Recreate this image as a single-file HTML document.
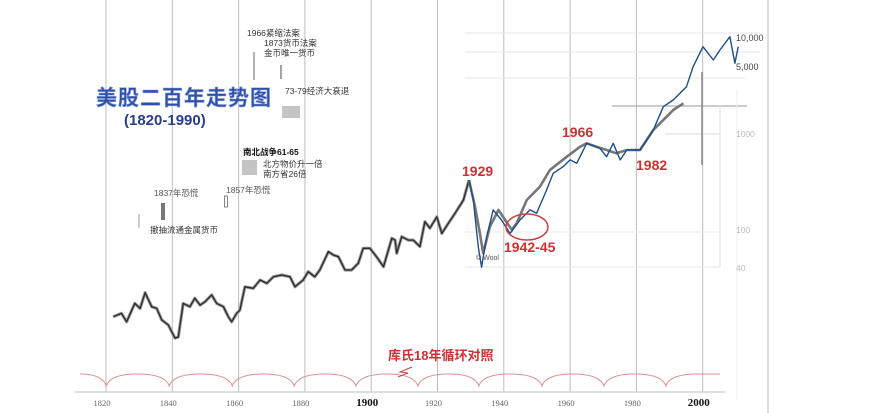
<!DOCTYPE html>
<html><head><meta charset="utf-8">
<style>
html,body{margin:0;padding:0;background:#fff;}
svg{display:block;font-family:"Liberation Sans","Noto Sans CJK SC",sans-serif;}
</style></head>
<body>
<svg id="chart" width="893" height="413" viewBox="0 0 893 413" xmlns="http://www.w3.org/2000/svg">
  <rect x="0" y="0" width="893" height="413" fill="#fff"/>
  <g id="grid"></g>
  <g id="overlay">
    <line x1="465" y1="33" x2="760" y2="33" stroke="#e4e4e4"/>
    <line x1="465" y1="52" x2="760" y2="52" stroke="#e4e4e4"/>
    <line x1="465" y1="78" x2="745" y2="78" stroke="#e4e4e4"/>
    <line x1="612" y1="106" x2="747" y2="106" stroke="#999" stroke-width="1"/>
    <line x1="665" y1="134" x2="720" y2="134" stroke="#ddd"/>
    <line x1="465" y1="232" x2="720" y2="232" stroke="#e8e8e8"/>
    <line x1="465" y1="267" x2="720" y2="267" stroke="#e4e4e4"/>
    <line x1="702" y1="72" x2="702" y2="165" stroke="#888" stroke-width="1.5"/>
    <line x1="768" y1="0" x2="768" y2="413" stroke="#bbb"/>
    <line x1="720" y1="105" x2="720" y2="267" stroke="#ddd"/>
    <line x1="737" y1="90" x2="737" y2="400" stroke="#eee"/>
  </g>
  <g id="cycles"></g>
  <line x1="75" y1="392" x2="725" y2="392" stroke="#ccc" stroke-width="1.2"/>
  <g id="xticks"></g>
  <g id="yticks"></g>
  <g id="series"></g>

  <g>
    <text x="96" y="105" font-size="21" font-weight="bold" fill="#3050a8" stroke="#8aa0d8" stroke-width="0.6" letter-spacing="1">美股二百年走势图</text>
    <text x="124" y="125" font-size="15" font-weight="bold" fill="#283f8c">(1820-1990)</text>
  </g>

  <g font-size="8.5" fill="#333">
    <text x="247" y="36">1966紧缩法案</text>
    <text x="264" y="46">1873货币法案</text>
    <text x="264" y="56">金币唯一货币</text>
    <line x1="254" y1="52" x2="254" y2="80" stroke="#666"/>
    <line x1="281" y1="65" x2="281" y2="79" stroke="#444"/>
    <text x="285" y="94">73-79经济大衰退</text>
    <rect x="282" y="106" width="18" height="12" fill="#c4c4c4"/>
    <text x="243" y="155" font-weight="bold" fill="#111">南北战争61-65</text>
    <rect x="242" y="160" width="15" height="15" fill="#c4c4c4"/>
    <text x="263" y="167">北方物价升一倍</text>
    <text x="263" y="177">南方省26倍</text>
    <text x="154" y="196" fill="#555">1837年恐慌</text>
    <rect x="161" y="203" width="4" height="17" fill="#777"/>
    <text x="226" y="193" fill="#555">1857年恐慌</text>
    <rect x="224.5" y="196" width="3" height="11" fill="none" stroke="#666" stroke-width="0.8"/>
    <line x1="139" y1="214" x2="139" y2="228" stroke="#999"/>
    <text x="150" y="233">撤抽流通金属货币</text>
    <text x="476" y="260" font-size="7" fill="#555">© Wool</text>
  </g>

  <g font-weight="bold" fill="#d03030" font-size="14">
    <text x="462" y="176">1929</text>
    <text x="562" y="137">1966</text>
    <text x="636" y="170">1982</text>
    <text x="504" y="252">1942-45</text>
    <ellipse cx="527" cy="227" rx="21" ry="13" fill="none" stroke="#d04040" stroke-width="1.5"/>
    <text x="388" y="360" font-size="13">库氏18年循环对照</text>
    <path d="M412 367 L400 372 L408 373 L398 377" fill="none" stroke="#d04040" stroke-width="1"/>
  </g>
</svg>
<script>
const xTickYears = [1820,1840,1860,1880,1900,1920,1940,1960,1980,2000];
const xTickLabels = ["1820","1840","1860","1880","1900","1920","1940","1960","1980","2000"];
const rightTickValues = [10000,5000,1000,100,40];
const rightTickLabels = ["10,000","5,000","1000","100","40"];
const cycleDipYears = [1822.5,1841.5,1860.5,1879.2,1897.8,1916.5,1934.9,1953.9,1972.6,1991.3];

const earlyYears = [1822.2,1824.7,1826.2,1828.7,1830.3,1831.8,1833.8,1835.3,1836.8,1838.8,1840.8,1841.8,1843.3,1845.3,1846.8,1848.4,1849.9,1851.9,1853.4,1855.4,1856.9,1857.9,1859.4,1860.4,1861.9,1864.4,1866.5,1868.5,1870.5,1873.0,1875.5,1877.0,1879.5,1881.0,1883.0,1884.5,1887.1,1888.6,1890.1,1892.1,1894.1,1896.1,1897.6,1899.6,1901.6,1903.7,1906.2,1907.2,1907.7,1909.2,1911.2,1912.7,1914.7,1916.2,1917.7,1919.8,1921.3,1923.3,1925.3,1927.8,1929.5];
const earlyValues = [12.2,13.2,10.8,16.8,14.9,21.7,15.5,14.9,11.3,10,7.3,7.5,16.8,15.5,19,16.1,17.5,20.6,16.8,15.5,12.2,10.8,13.2,14.3,25,24.1,29.4,27.2,31.8,33.2,31.8,25,29.4,35.9,31.8,37.4,58,53.6,51.4,37.4,37.4,44,63,63,51.4,40.5,80,76.7,55.8,83.2,76.7,76.7,65.5,119,102,134,90,115,146,200,324];

const grayYears = [1929.5,1931.3,1932.8,1933.8,1935.8,1938.4,1940.4,1942.4,1943.9,1946.9,1950.9,1953.9,1959.0,1963.0,1965.0,1968.0,1971.0,1974.0,1977.1,1981.1,1985.1,1989.1,1991.1,1994.2];
const grayValues = [324,171,90,56,106,158,124,98,115,200,276,412,566,719,781,719,665,615,665,665,1075,1479,1738,2037];

const blueYears = [1929.5,1930.8,1932.3,1933.3,1934.8,1936.8,1939.3,1941.9,1944.9,1947.9,1949.9,1952.9,1954.9,1957.9,1960.0,1962.0,1965.0,1969.0,1971.0,1973.0,1975.1,1977.1,1981.1,1985.1,1988.1,1991.1,1995.1,1997.1,2000.1,2003.2,2005.2,2008.2,2009.7,2010.7];
const blueValues = [324,200,65,40,83,158,124,90,124,158,146,255,380,446,524,483,781,692,566,781,524,665,665,1075,1880,2207,3035,4909,7925,5754,7328,10070,5322,7925];

const NS = "http://www.w3.org/2000/svg";
function xScale(year){ return 106 + (year - 1820) * 3.315; }
function yScale(v){ return 133 - 96 * (Math.log10(v) - 3); }
function mk(tag, attrs, parent){
  const e = document.createElementNS(NS, tag);
  for (const k in attrs) e.setAttribute(k, attrs[k]);
  parent.appendChild(e); return e;
}

const grid = document.getElementById('grid');
xTickYears.forEach((yr) => {
  const l = mk('line', {x1: xScale(yr), x2: xScale(yr), y1: 0, y2: 392, stroke: '#bdbdbd', 'stroke-width': 1}, grid);
  
  
});

const xt = document.getElementById('xticks');
xTickYears.forEach((yr, i) => {
  const big = (yr === 1900 || yr === 2000);
  const t = mk('text', {x: xScale(yr) - 4, y: 406, 'text-anchor': 'middle', 'font-size': big ? 11 : 8.5, 'font-family': '"Liberation Serif",serif', fill: big ? '#111' : '#666', 'font-weight': big ? 'bold' : 'normal'}, xt);
  t.textContent = xTickLabels[i];
  
  
});

const yt = document.getElementById('yticks');
rightTickValues.forEach((v, i) => {
  const dark = v >= 5000;
  const t = mk('text', {x: 736, y: yScale(v) + 4, 'font-size': dark ? 9 : 8.5, fill: dark ? '#444' : '#bbb', 'font-family': '"Liberation Sans Narrow","Liberation Sans",sans-serif'}, yt);
  t.textContent = rightTickLabels[i];
  
  
});

const cyc = document.getElementById('cycles');
let d = 'M80 374';
cycleDipYears.forEach((yr) => {
  const x = xScale(yr) - 8;
  d += ' Q' + (x - 4) + ' 374 ' + x + ' 386';
  d += ' Q' + (x + 4) + ' 374 ' + (x + 31) + ' 374';
});
d += ' L720 374';
const arc = mk('path', {d: d, fill: 'none', stroke: '#e09090', 'stroke-width': 1}, cyc);



const ser = document.getElementById('series');
function linePath(years, vals){
  return years.map((yr, i) => (i ? 'L' : 'M') + xScale(yr).toFixed(1) + ' ' + yScale(vals[i]).toFixed(1)).join(' ');
}
const eHalo = mk('path', {d: linePath(earlyYears, earlyValues), fill: 'none', stroke: '#9a9a9a', 'stroke-width': 3.2, 'stroke-linejoin': 'round'}, ser);


const eLine = mk('path', {d: linePath(earlyYears, earlyValues), fill: 'none', stroke: '#2a2a2a', 'stroke-width': 1.3, 'stroke-linejoin': 'round'}, ser);


const gLine = mk('path', {d: linePath(grayYears, grayValues), fill: 'none', stroke: '#777', 'stroke-width': 2.6, 'stroke-linejoin': 'round'}, ser);


const bLine = mk('path', {d: linePath(blueYears, blueValues), fill: 'none', stroke: '#1d4f8a', 'stroke-width': 1.4, 'stroke-linejoin': 'round'}, ser);


</script>
</body></html>
